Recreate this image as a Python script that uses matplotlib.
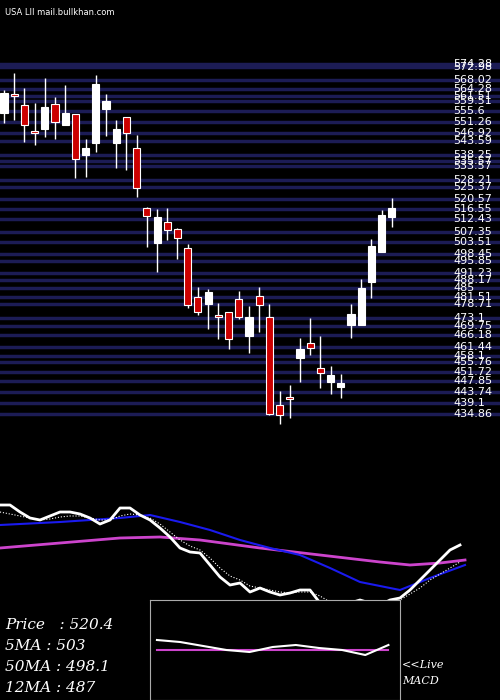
import matplotlib
matplotlib.use("Agg")
import matplotlib.pyplot as plt
import numpy as np

# daily candles (open, high, low, close)
opens  = [554.8,562.3,558.0,547.6,548.4,558.4,550.0,554.4,538.1,542.8,556.4,542.8,553.2,540.8,
          516.9,503.0,511.4,508.6,501.0,481.5,478.7,474.3,475.5,480.7,466.0,481.9,473.5,438.5,
          441.7,457.2,463.2,453.2,447.6,445.6,470.3,470.3,487.5,499.4,513.4]
highs  = [563.9,570.7,564.7,558.8,568.7,561.2,565.9,554.4,544.4,569.9,562.3,552.0,553.2,546.0,
          517.3,516.5,516.9,509.0,502.6,485.5,484.7,479.1,475.5,483.8,477.9,485.5,478.7,444.1,
          446.4,465.2,473.1,466.0,454.0,450.8,478.7,488.7,504.6,516.1,520.9]
lows   = [550.8,552.0,543.2,542.0,545.2,544.4,550.0,528.9,529.3,539.2,545.6,533.0,532.1,521.3,
          501.4,491.5,504.2,496.6,477.1,474.3,468.7,464.8,460.8,472.7,459.2,467.5,434.5,430.9,
          433.3,447.6,458.4,445.2,442.9,441.3,465.2,470.3,481.1,499.4,509.4]
closes = [562.7,561.6,550.0,546.8,557.2,551.2,554.8,536.5,540.8,566.3,559.6,548.4,546.8,525.0,
          513.8,513.4,508.2,505.0,478.3,475.5,483.5,473.5,464.8,473.5,473.5,478.3,434.9,434.5,
          440.9,460.8,461.2,451.2,450.4,447.2,474.7,485.1,501.8,514.2,516.9]

levels = [574.28,572.98,568.02,564.28,561.51,559.51,555.6,551.26,546.92,543.59,538.25,535.57,
          533.57,528.21,525.37,520.57,516.55,512.43,507.35,503.51,498.45,495.85,491.23,488.17,
          485.0,481.51,478.71,473.1,469.75,466.18,461.44,458.1,455.76,451.72,447.85,443.74,439.1,434.86]

# lower indicator panel
ind_price = [195,195,188,182,180,184,188,188,186,182,176,180,192,192,185,180,172,163,152,148,147,
             135,123,115,117,108,112,108,105,107,110,110,97,92,95,97,100,97,95,100,102,110,120,130,
             140,150,155]
ind_x = np.arange(len(ind_price))
ind_dot = [188,186,184,182,180,181,183,184,184,182,180,180,184,186,185,182,176,168,160,154,150,
           142,132,124,120,114,112,110,108,107,108,108,104,98,96,96,97,97,96,98,100,106,112,120,
           126,132,138]
blue_x = [0,6,12,15,18,21,24,27,30,33,36,40,43,46.5]
blue_v = [175,178,182,185,178,170,160,152,145,132,118,110,122,135]
mag_x = [0,6,12,16,20,26,32,38,41,44,46.5]
mag_v = [152,157,162,163,160,152,145,138,135,137,140]
macd_x = [0,1,2,3,4,5,6,7,8,9,10]
macd_v = [60,58,54,50,48,53,55,52,50,45,55]
macd_sig = [50]*11

fig = plt.figure(figsize=(5, 7), dpi=100, facecolor="black")

ax = fig.add_axes([0, 275/700, 1, 370/700])
ax.set_facecolor("black")
ax.set_xlim(-0.39, 48.6)
ax.set_ylim(430.5, 577.9)
ax.axis("off")
for lv in levels:
    ax.axhline(lv, color="#1c1c55", lw=2.5, zorder=1)
    ax.text(44.0, lv, f"{lv:g}", color="white", fontsize=8, va="center", ha="left",
            family="DejaVu Sans", zorder=3)
for i, (o, h, l, c) in enumerate(zip(opens, highs, lows, closes)):
    col = "white" if c >= o else "#cc0000"
    ax.vlines(i, l, h, color="white", lw=1, zorder=2)
    ax.bar(i, max(abs(c - o), 0.6), bottom=min(o, c), width=0.7, color=col,
           edgecolor="white", lw=0.8, zorder=3)

ax2 = fig.add_axes([0, 0, 1, 210/700])
ax2.set_facecolor("black")
ax2.set_xlim(0, 50)
ax2.set_ylim(0, 210)
ax2.axis("off")
ax2.plot(mag_x, mag_v, color="#cc44cc", lw=2, zorder=2)
ax2.plot(blue_x, blue_v, color="#1a1aee", lw=1.5, zorder=2)
ax2.plot(ind_x, ind_dot, color="white", lw=0.8, ls=":", zorder=2)
ax2.plot(ind_x, ind_price, color="white", lw=2, zorder=2)

ax3 = fig.add_axes([150/500, 0, 250/500, 100/700])
ax3.set_facecolor("black")
ax3.set_zorder(5)
ax3.set_xlim(-0.3, 10.5)
ax3.set_ylim(0, 100)
ax3.set_xticks([]); ax3.set_yticks([])
for s in ax3.spines.values():
    s.set_color("#aaaaaa")
ax3.plot(macd_x, macd_sig, color="#cc44cc", lw=1.5)
ax3.plot(macd_x, macd_v, color="white", lw=1.5)

fig.text(0.01, 0.988, "USA LII mail.bullkhan.com", color="white", fontsize=6, va="top")
stats = [("Price   : 520.4", 625), ("5MA : 503", 646), ("50MA : 498.1", 667), ("12MA : 487", 688)]
for s, yp in stats:
    fig.text(5/500, 1 - yp/700, s, color="white", fontsize=11, style="italic",
             family="DejaVu Serif", va="center")
fig.text(402/500, 1 - 665/700, "<<Live", color="white", fontsize=8, style="italic",
         family="DejaVu Serif", va="center")
fig.text(402/500, 1 - 681/700, "MACD", color="white", fontsize=8, style="italic",
         family="DejaVu Serif", va="center")

fig.savefig("out.png", dpi=100, facecolor="black")
